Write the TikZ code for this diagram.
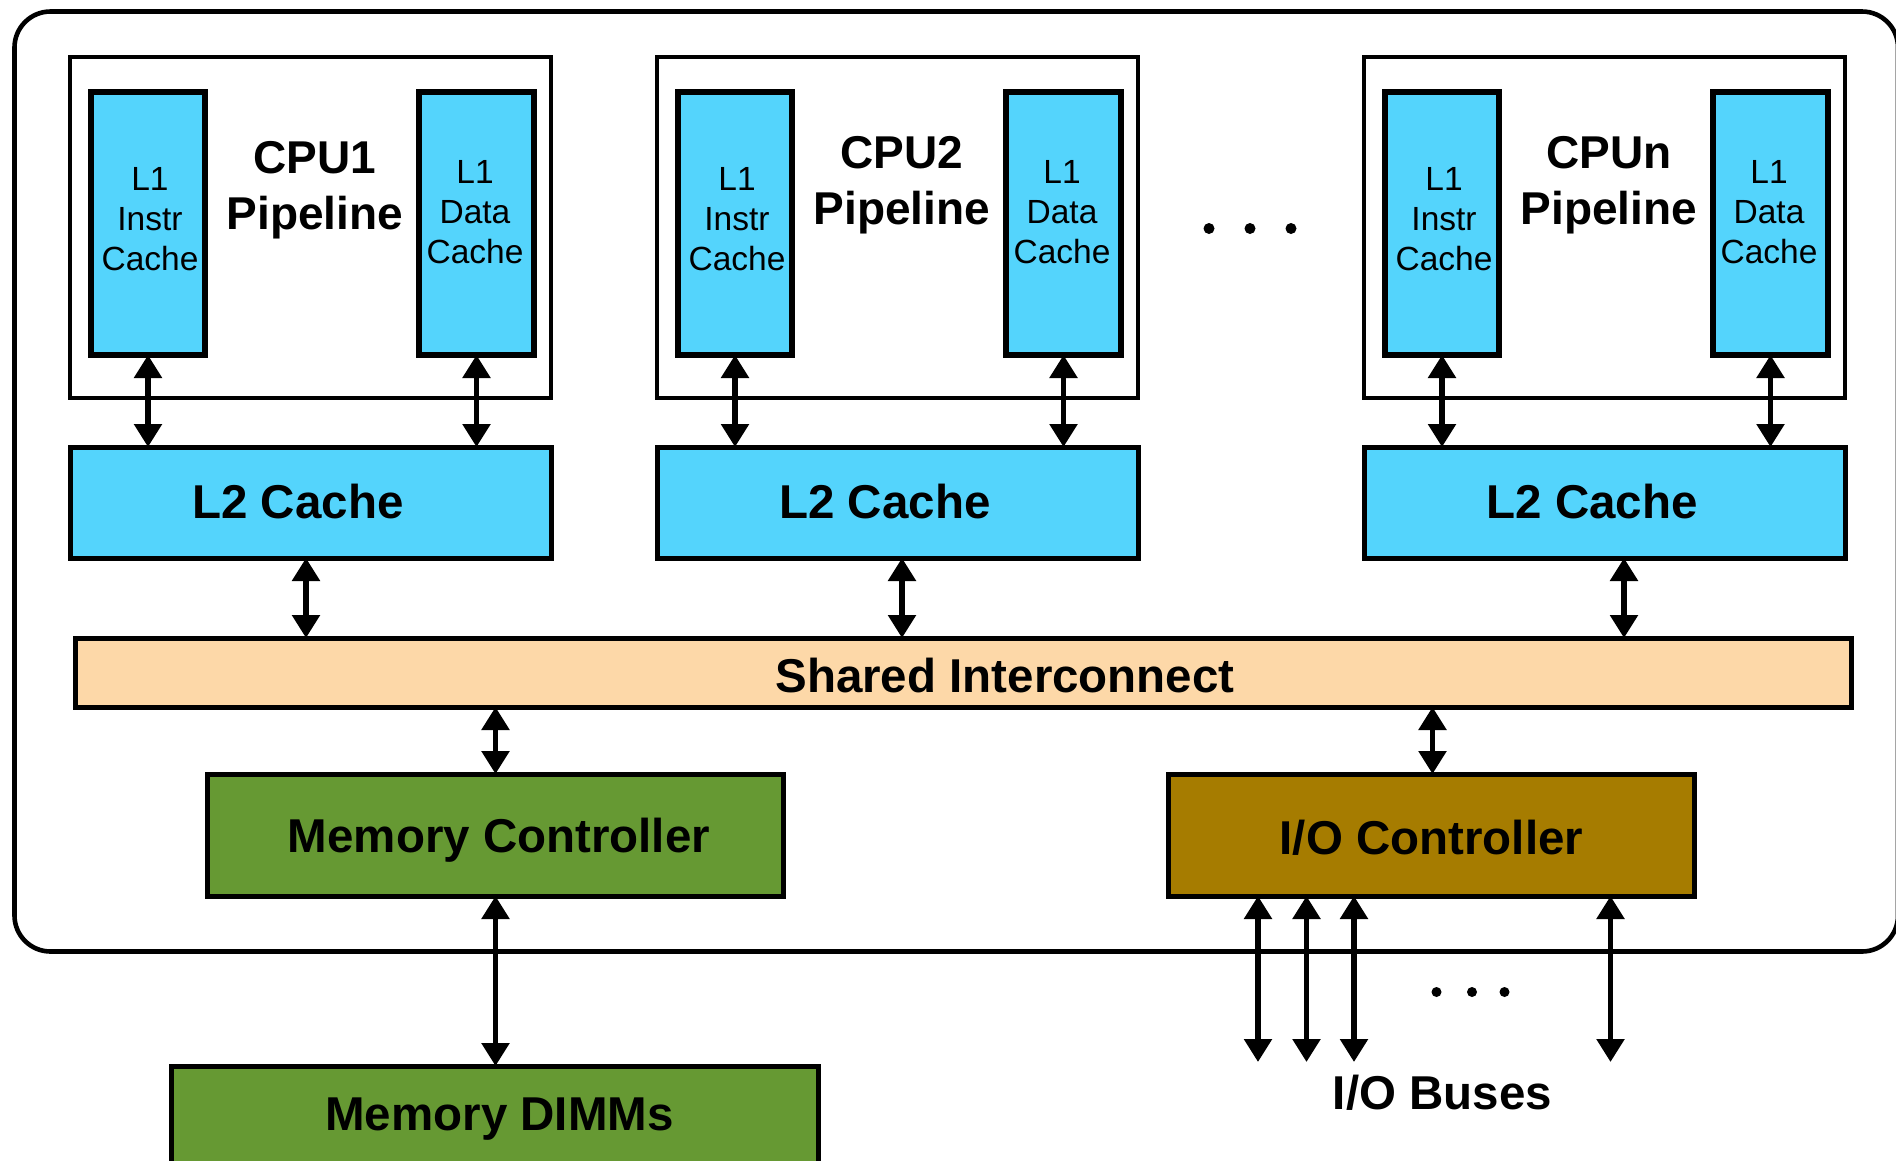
\documentclass[tikz,border=0pt]{standalone}
\usepackage{fontspec}
\setmainfont{Liberation Sans}
\usetikzlibrary{arrows.meta}
\definecolor{cachecol}{RGB}{84,212,252}
\definecolor{iccol}{RGB}{253,216,168}
\definecolor{memcol}{RGB}{102,153,51}
\definecolor{iocol}{RGB}{166,124,0}
\newcommand\cpuunit[4]{%
  \node[box, line width=4.6pt, minimum width=481pt, minimum height=341pt] (cpu#1) at (#2+240.5,227.5) {};
  \node[box, line width=5.5pt, fill=cachecol, minimum width=114pt, minimum height=263pt] (l1i#1) at (#2+78,223.5) {};
  \node[box, line width=5.5pt, fill=cachecol, minimum width=115pt, minimum height=263pt] (l1d#1) at (#2+406.5,223.5) {};
  \node[l1txt] (l1it#1) at (#2+80,219.5) {L1\\Instr\\Cache};
  \node[l1txt] (l1dt#1) at (#2+405,212) {L1\\Data\\Cache};
  \node[titletxt] (tt#1) at (#2+245,#4) {#3\\Pipeline};
  \node[box, fill=cachecol, minimum width=481pt, minimum height=111pt] (l2#1) at (#2+240.5,502.5) {};
  \node[bigtxt] (l2t#1) at (#2+228,518.5) {L2 Cache};
  \draw[bi] (l1i#1.south) -- (l1i#1.south |- l2#1.north);
  \draw[bi] (l1d#1.south) -- (l1d#1.south |- l2#1.north);
}
\begin{document}
\begin{tikzpicture}[x=1pt,y=-1pt,
  box/.style={draw=black, line width=5pt, rectangle, inner sep=0pt, outer sep=0pt, anchor=center},
  l1txt/.style={font={\fontsize{33.5}{40}\selectfont}, align=center, inner sep=0pt},
  titletxt/.style={font={\fontsize{46}{56}\selectfont\bfseries}, align=center, inner sep=0pt},
  bigtxt/.style={font={\fontsize{47.5}{56}\selectfont\bfseries}, inner sep=0pt, anchor=base},
  bi/.style={line width=5.5pt, {Triangle[length=23pt,width=27pt]}-{Triangle[length=23pt,width=27pt]}}
]
\clip (0,0) rectangle (1896,1160);
\fill[white] (0,0) rectangle (1896,1160);

\node[draw=black, line width=4.6pt, rounded corners=36pt, minimum width=1883.5pt, minimum height=940pt, inner sep=0pt, outer sep=0pt] (chip) at (956.25,481.5) {};

\cpuunit{1}{70}{CPU1}{190}
\cpuunit{2}{657}{CPU2}{185}
\cpuunit{n}{1364}{CPUn}{185}

\fill (1209,228.5) circle (5.5pt);
\fill (1250,228.5) circle (5.5pt);
\fill (1291,228.5) circle (5.5pt);

\node[box, fill=iccol, minimum width=1776pt, minimum height=69pt] (ic) at (963,672.5) {};
\node[bigtxt] (ict) at (1005,692) {Shared Interconnect};

\draw[bi] (306,0 |- l21.south) -- (306,0 |- ic.north);
\draw[bi] (902,0 |- l22.south) -- (902,0 |- ic.north);
\draw[bi] (1624,0 |- l2n.south) -- (1624,0 |- ic.north);

\node[box, fill=memcol, minimum width=576pt, minimum height=122pt] (mc) at (495.5,835) {};
\node[bigtxt] (mct) at (499,852) {Memory Controller};
\node[box, fill=iocol, minimum width=526pt, minimum height=122pt] (io) at (1431,835) {};
\node[bigtxt] (iot) at (1431.5,854) {I/O Controller};

\draw[bi] (ic.south -| mc.north) -- (mc.north);
\draw[bi] (ic.south -| 1432.5,0) -- (io.north -| 1432.5,0);

\node[box, fill=memcol, minimum width=647pt, minimum height=160pt] (dimm) at (494.5,1146) {};
\node[bigtxt] (dimmt) at (499.5,1130) {Memory DIMMs};
\draw[bi] (mc.south) -- (mc.south |- dimm.north);

\coordinate (b1) at (1258,1062);
\coordinate (b2) at (1306.5,1062);
\coordinate (b3) at (1354,1062);
\coordinate (b4) at (1610.5,1062);
\foreach \b in {b1,b2,b3,b4} {\draw[bi] (\b |- io.south) -- (\b);}

\fill (1436.5,992) circle (5pt);
\fill (1472,992) circle (5pt);
\fill (1504.5,992) circle (5pt);

\node[bigtxt] (busest) at (1442.5,1109) {I/O Buses};
\end{tikzpicture}
\end{document}
